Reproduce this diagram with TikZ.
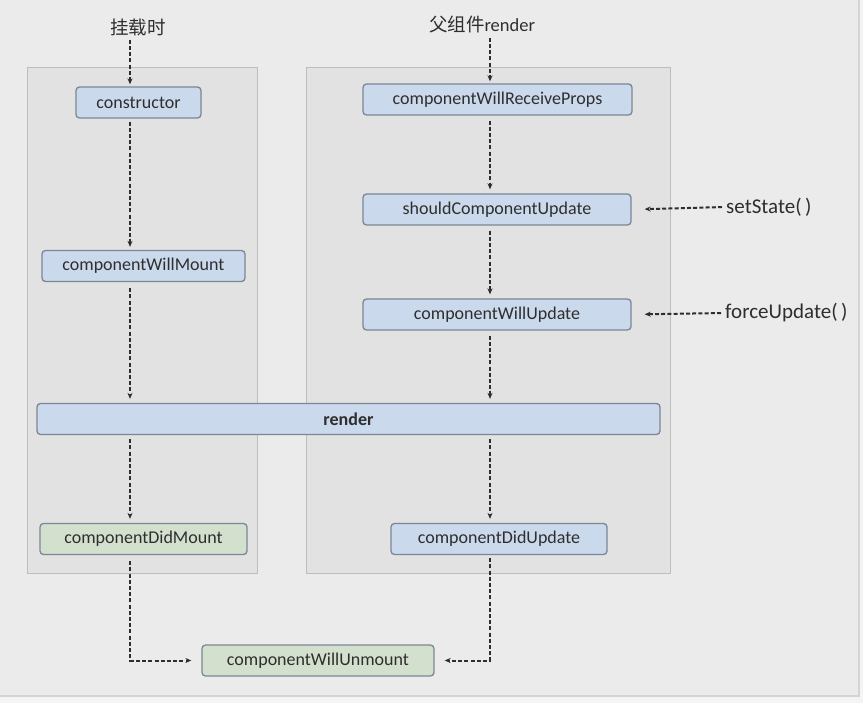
\documentclass[tikz,border=0pt]{standalone}
\usepackage{fontspec}
\setmainfont{Carlito}
\newfontfamily\cjk{Noto Sans CJK SC}
\usetikzlibrary{arrows.meta,positioning,calc}
\definecolor{pagebg}{HTML}{F4F4F4}
\definecolor{framebg}{HTML}{EBEBEB}
\definecolor{frameline}{HTML}{D4D4D4}
\definecolor{panelbg}{HTML}{E2E2E2}
\definecolor{panelline}{HTML}{BDBDBD}
\definecolor{hookblue}{HTML}{CBD9EC}
\definecolor{hookgreen}{HTML}{D4E0CE}
\definecolor{hookline}{HTML}{7B8796}
\definecolor{inkdark}{HTML}{2E2E2E}
\tikzset{
  panel/.style={draw=panelline, fill=panelbg, line width=1pt, inner sep=0pt},
  hook/.style={draw=hookline, fill=hookblue, rounded corners=3.5pt, line width=1.3pt,
    minimum height=31pt, inner sep=2pt, font=\fontsize{18}{21}\selectfont, text=inkdark},
  donehook/.style={hook, fill=hookgreen},
  trigger/.style={font=\fontsize{18.5}{22}\selectfont, text=inkdark, inner sep=1pt},
  sidetrigger/.style={trigger, font=\fontsize{21}{24}\selectfont, anchor=west},
  flow/.style={-{Stealth[length=6pt,width=5pt]}, line width=2pt, color=inkdark,
    dash pattern=on 4pt off 2.2pt},
}
\begin{document}
\begin{tikzpicture}[x=1pt,y=-1pt]
  \useasboundingbox (0,0) rectangle (863,703);
  % page and frame
  \fill[pagebg] (0,0) rectangle (863,703);
  \draw[frameline, fill=framebg, line width=2pt] (-3,-3) rectangle (859,696);
  % the two phases
  \node[panel, minimum width=230pt, minimum height=505pt] (mountpanel) at (142,320.5) {};
  \node[panel, minimum width=364pt, minimum height=505pt] (updatepanel) at (488,320.5) {};
  \coordinate (lx) at (130,0);
  \coordinate (rx) at (490,0);
  % triggers
  \node[trigger] (mounting) at (138,27) {\cjk 挂载时};
  \node[trigger] (parentrender) at (482,25) {{\cjk 父组件}render};
  \node[sidetrigger] (setstate) at (725,207) {setState(\,)};
  \node[sidetrigger] (forceupdate) at (724,313) {forceUpdate(\,)};
  % hooks
  \node[hook, minimum width=125pt] (ctor) at (138.5,102.5) {constructor};
  \node[hook, minimum width=203pt] (willmount) at (143.5,266) {componentWillMount};
  \node[hook, minimum width=269pt] (willprops) at (497.5,99.5) {componentWillReceiveProps};
  \node[hook, minimum width=268pt] (shouldupdate) at (497,209.5) {shouldComponentUpdate};
  \node[hook, minimum width=268pt] (willupdate) at (497,314.5) {componentWillUpdate};
  \node[hook, minimum width=623pt, font=\fontsize{18}{21}\selectfont\bfseries] (render) at (348.5,419) {render};
  \node[donehook, minimum width=207pt] (didmount) at (143.5,539) {componentDidMount};
  \node[hook, minimum width=216pt] (didupdate) at (499,539) {componentDidUpdate};
  \node[donehook, minimum width=232pt] (willunmount) at (318,660.5) {componentWillUnmount};
  % mounting flow
  \draw[flow, shorten <=3pt, shorten >=2pt] (mounting.south -| lx) -- (ctor.north -| lx);
  \draw[flow, shorten <=3pt, shorten >=3pt] (ctor.south -| lx) -- (willmount.north -| lx);
  \draw[flow, shorten <=6pt, shorten >=4pt] (willmount.south -| lx) -- (render.north -| lx);
  \draw[flow, shorten <=4pt, shorten >=4pt] (render.south -| lx) -- (didmount.north -| lx);
  \draw[flow, shorten <=6pt, shorten >=10pt] (didmount.south -| lx) |- (willunmount.west);
  % updating flow
  \draw[flow, shorten <=3pt, shorten >=2pt] (parentrender.south -| rx) -- (willprops.north -| rx);
  \draw[flow, shorten <=5pt, shorten >=4pt] (willprops.south -| rx) -- (shouldupdate.north -| rx);
  \draw[flow, shorten <=5pt, shorten >=4pt] (shouldupdate.south -| rx) -- (willupdate.north -| rx);
  \draw[flow, shorten <=5pt, shorten >=4pt] (willupdate.south -| rx) -- (render.north -| rx);
  \draw[flow, shorten <=4pt, shorten >=4pt] (render.south -| rx) -- (didupdate.north -| rx);
  \draw[flow, shorten <=3pt, shorten >=10pt] (didupdate.south -| rx) |- (willunmount.east);
  % setState / forceUpdate
  \draw[flow, shorten <=3pt, shorten >=13pt] (setstate.west) -- (shouldupdate.east);
  \draw[flow, shorten <=3pt, shorten >=13pt] (forceupdate.west) -- (willupdate.east);
\end{tikzpicture}
\end{document}
